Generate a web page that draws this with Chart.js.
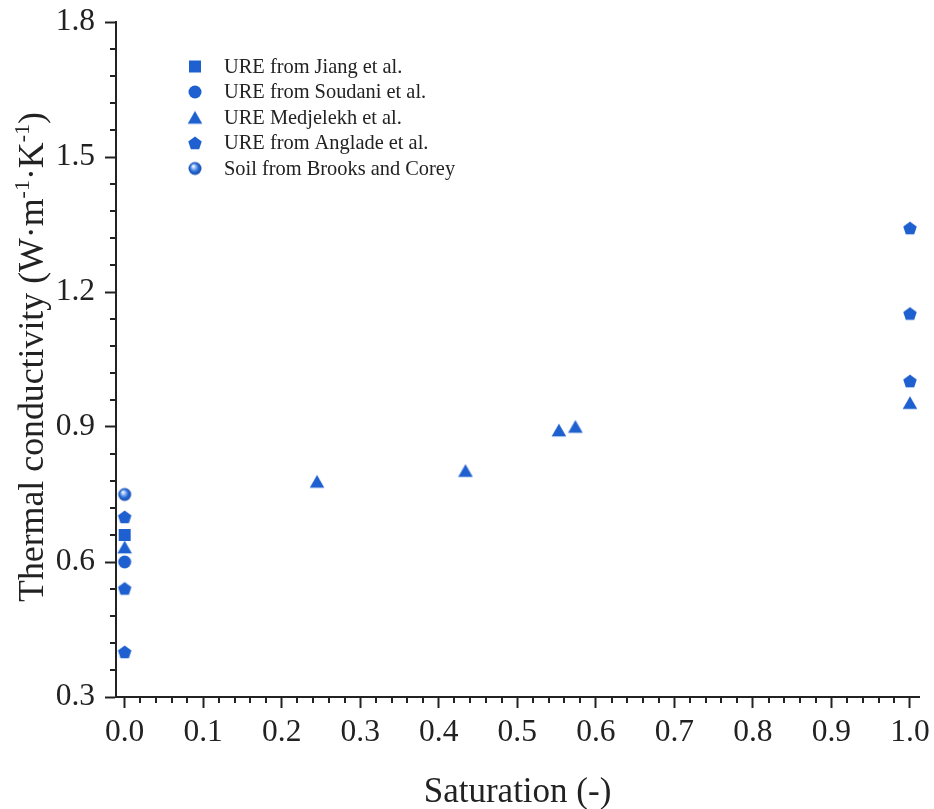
<!DOCTYPE html>
<html>
<head>
<meta charset="utf-8">
<script src="https://cdn.jsdelivr.net/npm/chart.js@4/dist/chart.umd.min.js"></script>
<style>
  html, body { margin: 0; padding: 0; background: #fff; }
  #wrap { width: 934px; height: 809px; }
</style>
</head>
<body>
<div id="wrap"><canvas id="chart" width="934" height="809"></canvas></div>
<script>
// values
const jiangX = [0.0];
const jiangY = [0.66];
const soudaniX = [0.0];
const soudaniY = [0.60];
const medjelekhX = [0.0, 0.245, 0.434, 0.553, 0.574, 1.0];
const medjelekhY = [0.633, 0.779, 0.803, 0.893, 0.901, 0.954];
const angladeX = [0.0, 0.0, 0.0, 1.0, 1.0, 1.0];
const angladeY = [0.70, 0.541, 0.40, 1.342, 1.152, 1.002];
const brooksX = [0.0];
const brooksY = [0.75];

const seriesNames = ['URE from Jiang et al.', 'URE from Soudani et al.', 'URE Medjelekh et al.',
    'URE from Anglade et al.', 'Soil from Brooks and Corey'];
const xTicks = [0.0, 0.1, 0.2, 0.3, 0.4, 0.5, 0.6, 0.7, 0.8, 0.9, 1.0];
const yTicks = [0.3, 0.6, 0.9, 1.2, 1.5, 1.8];
const xTitle = 'Saturation (-)';

const blue = '#1f60d0';
const ink = '#222';
const serif = '"Liberation Serif", "Times New Roman", serif';

function toPoints(xs, ys) {
    return xs.map(function (x, i) { return {x: x, y: ys[i]}; });
}

// marker images
function makeMarker(shape) {
    const c = document.createElement('canvas');
    c.width = 16; c.height = 16;
    const g = c.getContext('2d');
    g.fillStyle = blue;
    g.beginPath();
    if (shape === 'square') {
        g.rect(2, 2, 12, 12);
    } else if (shape === 'circle') {
        g.arc(8, 8, 6.5, 0, Math.PI * 2);
    } else if (shape === 'triangle') {
        g.moveTo(8, 1.6);
        g.lineTo(15.3, 14.3);
        g.lineTo(0.7, 14.3);
        g.closePath();
    } else if (shape === 'pentagon') {
        const R = 7.1, cy = 8.6;
        for (let k = 0; k < 5; k++) {
            const a = -Math.PI / 2 + k * 2 * Math.PI / 5;
            const px = 8 + R * Math.cos(a), py = cy + R * Math.sin(a);
            if (k === 0) g.moveTo(px, py); else g.lineTo(px, py);
        }
        g.closePath();
    } else if (shape === 'sphere') {
        const grd = g.createRadialGradient(6.2, 5.6, 0.3, 8, 8, 6.8);
        grd.addColorStop(0, '#ffffff');
        grd.addColorStop(0.25, '#9dc0f4');
        grd.addColorStop(0.6, '#2a6ad6');
        grd.addColorStop(1, '#1549a8');
        g.fillStyle = grd;
        g.arc(8, 8, 6.5, 0, Math.PI * 2);
    }
    g.fill();
    return c;
}

const markers = [makeMarker('square'), makeMarker('circle'), makeMarker('triangle'),
    makeMarker('pentagon'), makeMarker('sphere')];

function makeDataset(i, xs, ys) {
    return {
        label: seriesNames[i],
        data: toPoints(xs, ys),
        pointStyle: markers[i],
        pointRadius: 7,
        pointHoverRadius: 7,
        showLine: false,
        backgroundColor: blue,
        borderColor: blue
    };
}

// minor ticks, legend and axis titles
const extras = {
    id: 'extras',
    afterDraw: function (chart) {
        const ctx = chart.ctx;
        const xs = chart.scales.x, ys = chart.scales.y;
        const area = chart.chartArea;
        ctx.save();
        ctx.strokeStyle = ink;
        ctx.lineWidth = 2;
        ctx.beginPath();
        for (let i = 0; i < xTicks.length - 1; i++) {
            for (let k = 1; k < 5; k++) {
                const v = xTicks[i] + (xTicks[i + 1] - xTicks[i]) * k / 5;
                const px = Math.round(xs.getPixelForValue(v));
                ctx.moveTo(px, area.bottom);
                ctx.lineTo(px, area.bottom + 6);
            }
        }
        for (let i = 0; i < yTicks.length - 1; i++) {
            for (let k = 1; k < 5; k++) {
                const v = yTicks[i] + (yTicks[i + 1] - yTicks[i]) * k / 5;
                const py = Math.round(ys.getPixelForValue(v));
                ctx.moveTo(area.left, py);
                ctx.lineTo(area.left - 6, py);
            }
        }
        ctx.stroke();

        // legend
        ctx.font = '20.4px ' + serif;
        ctx.fillStyle = ink;
        ctx.textBaseline = 'middle';
        ctx.textAlign = 'left';
        chart.data.datasets.forEach(function (ds, i) {
            const cy = 66.5 + i * 25.5;
            const img = ds.pointStyle;
            ctx.drawImage(img, 195 - img.width / 2, cy - img.height / 2);
            ctx.fillText(ds.label, 224, cy + 1);
        });

        // x title
        ctx.font = '35px ' + serif;
        ctx.textAlign = 'center';
        ctx.textBaseline = 'alphabetic';
        ctx.fillText(xTitle, (area.left + area.right) / 2, 801.5);

        // y title with superscripts
        const parts = [['Thermal conductivity (W\u00b7m', 0], ['-1', 1], ['\u00b7K', 0], ['-1', 1], [')', 0]];
        const big = '35.8px ' + serif, small = '22px ' + serif;
        let total = 0;
        parts.forEach(function (p) {
            ctx.font = p[1] ? small : big;
            total += ctx.measureText(p[0]).width;
        });
        ctx.translate(43, 357);
        ctx.rotate(-Math.PI / 2);
        ctx.textAlign = 'left';
        let pos = -total / 2;
        parts.forEach(function (p) {
            ctx.font = p[1] ? small : big;
            ctx.fillText(p[0], pos, p[1] ? -14 : 0);
            pos += ctx.measureText(p[0]).width;
        });
        ctx.restore();
    }
};

function axisStyle() {
    return {
        grid: {drawOnChartArea: false, drawTicks: true, tickLength: 11, tickWidth: 2, tickColor: ink},
        border: {display: true, width: 2, color: ink}
    };
}

const xAxis = Object.assign(axisStyle(), {
    type: 'linear',
    min: -0.011,
    max: 1.0115,
    afterBuildTicks: function (s) { s.ticks = xTicks.map(function (v) { return {value: v}; }); },
    afterFit: function (s) { s.height = 112; s.paddingLeft = 0; s.paddingRight = 0; },
    ticks: {
        color: ink,
        padding: 6,
        maxRotation: 0,
        font: {family: serif, size: 31.5},
        callback: function (v) { return Number(v).toFixed(1); }
    }
});

const yAxis = Object.assign(axisStyle(), {
    type: 'linear',
    min: 0.3,
    max: 1.8,
    afterBuildTicks: function (s) { s.ticks = yTicks.map(function (v) { return {value: v}; }); },
    afterFit: function (s) { s.width = 116; s.paddingTop = 0; s.paddingBottom = 0; },
    ticks: {
        color: ink,
        padding: 10,
        font: {family: serif, size: 31.5},
        callback: function (v) { return Number(v).toFixed(1); }
    }
});

const chart = new Chart(document.getElementById('chart').getContext('2d'), {
    type: 'scatter',
    data: {
        datasets: [
            makeDataset(0, jiangX, jiangY),
            makeDataset(1, soudaniX, soudaniY),
            makeDataset(2, medjelekhX, medjelekhY),
            makeDataset(3, angladeX, angladeY),
            makeDataset(4, brooksX, brooksY)
        ]
    },
    options: {
        responsive: false,
        animation: false,
        devicePixelRatio: 1,
        layout: {padding: {top: 22, right: 15, left: 0, bottom: 0}},
        scales: {x: xAxis, y: yAxis},
        plugins: {
            legend: {display: false},
            tooltip: {enabled: false}
        }
    },
    plugins: [extras]
});
</script>
</body>
</html>
